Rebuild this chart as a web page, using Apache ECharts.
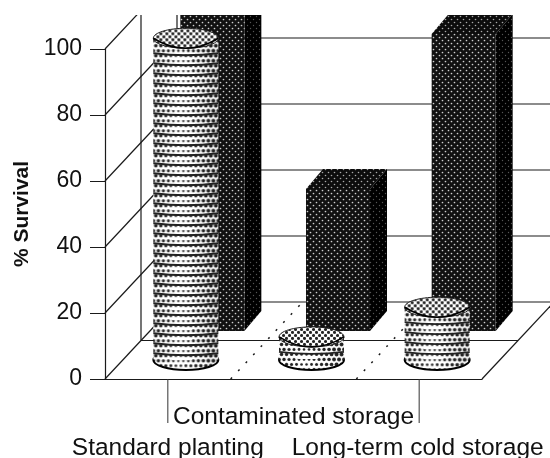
<!DOCTYPE html>
<html>
<head>
<meta charset="utf-8">
<style>
  html, body { margin: 0; padding: 0; background: #fff; }
  #chart { width: 550px; height: 458px; }
</style>
<script src="https://cdn.jsdelivr.net/npm/echarts@6/dist/echarts.min.js"></script>
</head>
<body>
<div id="chart"></div>
<script>
const categories = ["Standard planting", "Contaminated storage", "Long-term cold storage"];
const yTicks = [0, 20, 40, 60, 80, 100];
const frontValues = [97.5, 7, 16]; // cylinders
const backValues = [100, 43, 90]; // boxes

// depth of the floor in pixels, the fake 3d offset
const depth = [72, -77];
const boxWidth = 64;
const cylWidth = 65;
const ink = "#1a1a1a";

function dots(bg, fg, r) {
  const c = document.createElement("canvas");
  c.width = 6;
  c.height = 6;
  const g = c.getContext("2d");
  g.fillStyle = bg;
  g.fillRect(0, 0, 6, 6);
  g.fillStyle = fg;
  [[1.5, 1.5], [4.5, 4.5]].forEach((p) => {
    g.beginPath();
    g.arc(p[0], p[1], r, 0, Math.PI * 2);
    g.fill();
  });
  return { image: c, repeat: "repeat" };
}

// halftone, a bit heavier at the edges of the cylinder
function cylinderDots() {
  const c = document.createElement("canvas");
  c.width = cylWidth;
  c.height = 10;
  const g = c.getContext("2d");
  g.fillStyle = "#fff";
  g.fillRect(0, 0, cylWidth, 10);
  g.fillStyle = "#222";
  for (let x = 0; x < cylWidth + 5; x += 5) {
    for (let row = 0; row < 2; row++) {
      const px = x + (row ? 2.5 : 0);
      const off = Math.abs(px - 26) / 30;
      const r = 1.25 + 0.7 * Math.min(off, 1);
      g.beginPath();
      g.arc(px, 2.5 + row * 5, r, 0, Math.PI * 2);
      g.fill();
    }
  }
  return { image: c, repeat: "repeat" };
}

const frontFill = dots("#111", "#cfcfcf", 0.85);
const topFill = dots("#0c0c0c", "#a8a8a8", 0.8);
const sideFill = dots("#000", "#555", 0.7);
const cylFill = cylinderDots();
const capFill = dots("#fff", "#222", 1.55);

function line(a, b, style) {
  return {
    type: "line",
    shape: { x1: a[0], y1: a[1], x2: b[0], y2: b[1] },
    style: Object.assign({ stroke: ink, lineWidth: 1.2, fill: null }, style),
  };
}

function poly(points, fill) {
  return { type: "polygon", shape: { points: points }, style: { fill: fill } };
}

function shift(p, f) {
  return [p[0] + depth[0] * f, p[1] + depth[1] * f];
}

// walls and floor, one item per y tick
function renderWalls(params, api) {
  const v = api.value(1);
  const band = api.size([1, 0])[0];
  const p = api.coord([0, v]);
  const left = p[0] - band / 2;
  const right = left + band * categories.length;
  const children = [
    line([left, p[1]], shift([left, p[1]], 1)),
    line(shift([left, p[1]], 1), shift([right, p[1]], 1)),
  ];
  if (v === 0) {
    children.push(line(shift([left, p[1]], 0.5), shift([right, p[1]], 0.5)));
    children.push(line([right, p[1]], shift([right, p[1]], 1)));
    // side wall verticals, they run out of the top of the picture
    const top = api.coord([0, 100]);
    children.push(line(shift([left, p[1]], 0.5), shift([left, top[1]], 0.5)));
    children.push(line(shift([left, p[1]], 1), shift([left, top[1]], 1)));
    // dotted dividers on the floor
    [1, 2].forEach((n) => {
      const x = left + band * n;
      children.push(line([x, p[1]], shift([x, p[1]], 1), { lineDash: [2, 9], lineWidth: 1.5 }));
    });
  }
  return { type: "group", children: children };
}

// boxes in the back row
function renderBox(params, api) {
  const i = api.value(0);
  const base = api.coord([i, 0]);
  const top = api.coord([i, api.value(1)]);
  const x0 = base[0] + 44.5 - boxWidth / 2;
  const x1 = x0 + boxWidth;
  const yb = base[1] - 48;
  const yt = yb - (base[1] - top[1]);
  const dx = 17;
  const dy = -20;
  return {
    type: "group",
    children: [
      poly([[x0, yt], [x1, yt], [x1 + dx, yt + dy], [x0 + dx, yt + dy]], topFill),
      poly([[x1, yt], [x1 + dx, yt + dy], [x1 + dx, yb + dy], [x1, yb]], sideFill),
      poly([[x0, yt], [x1, yt], [x1, yb], [x0, yb]], frontFill),
    ],
  };
}

// striped cylinders in the front row, drawn in local coordinates from the cap down
function renderCylinder(params, api) {
  const i = api.value(0);
  const base = api.coord([i, 0]);
  const top = api.coord([i, api.value(1)]);
  const rx = cylWidth / 2;
  const ry = 10;
  const yt = top[1] - 19;
  const h = base[1] - top[1];
  const children = [
    {
      type: "ellipse",
      shape: { cx: rx, cy: h, rx: rx, ry: ry },
      style: { fill: cylFill, stroke: "#000", lineWidth: 2 },
    },
    { type: "rect", shape: { x: 0, y: 0, width: cylWidth, height: h }, style: { fill: cylFill } },
  ];
  for (let y = 15; y <= h + 1; y += 10) {
    // white glint in the middle, between the stripes
    children.push({
      type: "rect",
      shape: { x: rx - 14, y: y + 4.5, width: 20, height: 2.5, r: 1 },
      style: { fill: "#fff" },
    });
    children.push({
      type: "bezierCurve",
      shape: { x1: 0, y1: y, x2: cylWidth, y2: y, cpx1: rx, cpy1: y + 4 },
      style: { stroke: "#222", lineWidth: 1.8, fill: null },
    });
  }
  children.push({
    type: "ellipse",
    shape: { cx: rx, cy: 0, rx: rx, ry: ry },
    style: { fill: capFill, stroke: "#222", lineWidth: 1 },
  });
  children.push({
    type: "bezierCurve",
    shape: { x1: 0, y1: 0, x2: cylWidth, y2: 0, cpx1: rx, cpy1: 2 * ry },
    style: { stroke: "#000", lineWidth: 1.6, fill: null },
  });
  return { type: "group", x: base[0] + 18 - rx, y: yt, children: children };
}

// the two outer category ticks run down to the labels
function renderLongTick(params, api) {
  const p = api.coord([api.value(0), 0]);
  return line(p, [p[0], p[1] + 44], { stroke: "#333", lineWidth: 1 });
}

const chart = echarts.init(document.getElementById("chart"));
chart.setOption({
  animation: false,
  backgroundColor: "#fff",
  textStyle: { fontFamily: "Liberation Sans" },
  grid: { left: 105, right: 68, top: 49, bottom: 79, outerBoundsMode: "none" },
  xAxis: {
    type: "category",
    data: categories,
    axisLine: { lineStyle: { color: ink, width: 1.2 } },
    axisTick: { alignWithLabel: true, length: 14, lineStyle: { color: "#333" } },
    axisLabel: {
      interval: 0,
      hideOverlap: false,
      margin: 24,
      color: "#111",
      fontSize: 24.5,
      formatter: (v, i) => (i === 1 ? `{a|${v}}` : i === 0 ? `{b|${v}}` : `{c|${v}}`),
      rich: {
        a: { fontSize: 24.5, lineHeight: 28, color: "#111" },
        b: { fontSize: 24.5, lineHeight: 28, color: "#111", padding: [62, 0, 0, 0] },
        c: { fontSize: 24.5, lineHeight: 28, color: "#111", padding: [62, 3, 0, 0] },
      },
    },
  },
  yAxis: {
    type: "value",
    min: 0,
    max: 100,
    interval: 20,
    name: "% Survival",
    nameLocation: "middle",
    nameGap: 72,
    nameTextStyle: { fontSize: 21, fontWeight: "bold", color: "#111" },
    axisLine: { show: true, lineStyle: { color: ink, width: 1.2 } },
    axisTick: { show: true, length: 15, lineStyle: { color: ink } },
    axisLabel: { margin: 23, fontSize: 23, color: "#111", padding: [6, 0, 0, 0] },
    splitLine: { show: false },
  },
  series: [
    {
      name: "Walls",
      type: "custom",
      silent: true,
      encode: { x: 0, y: 1 },
      data: yTicks.map((t) => [0, t]),
      renderItem: renderWalls,
    },
    {
      name: "Back row",
      type: "custom",
      silent: true,
      encode: { x: 0, y: 1 },
      data: backValues.map((v, i) => [i, v]),
      renderItem: renderBox,
    },
    {
      name: "Front row",
      type: "custom",
      silent: true,
      encode: { x: 0, y: 1 },
      data: frontValues.map((v, i) => [i, v]),
      renderItem: renderCylinder,
    },
    {
      name: "Long ticks",
      type: "custom",
      silent: true,
      encode: { x: 0, y: 1 },
      data: [[0, 0], [2, 0]],
      renderItem: renderLongTick,
    },
  ],
  // the scan is cropped at the top
  graphic: [
    {
      type: "rect",
      z: 100,
      silent: true,
      shape: { x: 0, y: 0, width: 550, height: 15 },
      style: { fill: "#fff" },
    },
  ],
});
</script>
</body>
</html>
